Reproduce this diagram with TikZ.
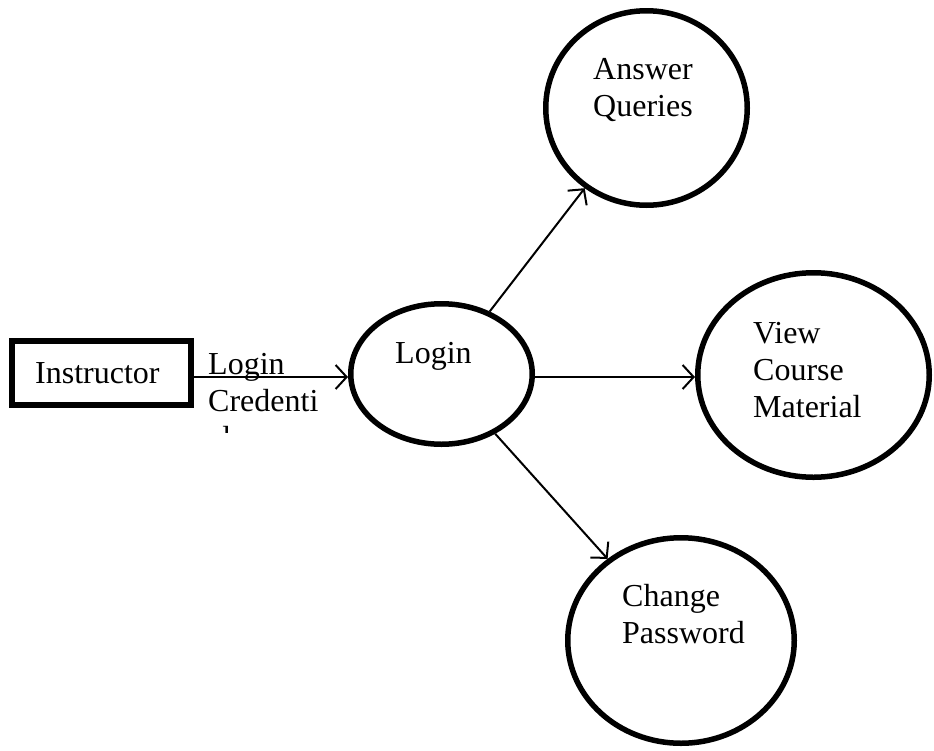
\documentclass[tikz,border=0pt]{standalone}
\usepackage{fontspec}
\setmainfont{Liberation Serif}
\usetikzlibrary{shapes.geometric,arrows.meta}
\tikzset{
  proc/.style={ellipse, draw, line width=5.5pt, inner sep=0pt},
  ent/.style={rectangle, draw, line width=5.5pt, inner sep=0pt},
  flow/.style={line width=2pt, -{Straight Barb[length=11pt,width=24pt,line width=2pt]}},
  txt/.style={inner sep=0pt, anchor=base west, align=left, font=\fontsize{32}{37}\selectfont}
}
\begin{document}
\begin{tikzpicture}[x=1pt,y=-1pt]
\useasboundingbox (0,0) rectangle (934,750);
% nodes
\node[ent, minimum width=179pt, minimum height=64pt] (instr) at (101.5,373) {};
\node[proc, minimum width=181.5pt, minimum height=140.5pt] (login) at (441.5,374) {};
\node[proc, minimum width=201.5pt, minimum height=194.5pt] (answer) at (646.5,108) {};
\node[proc, minimum width=231.5pt, minimum height=204.5pt] (view) at (813.5,375) {};
\node[proc, minimum width=226.5pt, minimum height=205.5pt] (change) at (681,640.5) {};
% texts
\node[txt] (tinstr) at (35,383) {Instructor};
\node[txt] (tlogin) at (395,363) {Login};
\node[txt] (tanswer) at (593,116) {Answer\\Queries};
\node[txt] (tview) at (753,417) {View\\Course\\Material};
\node[txt] (tchange) at (622,643) {Change\\Password};
\begin{scope}
\clip (200,340) rectangle (340,432);
\node[txt, font=\fontsize{32}{37}\selectfont] (tcred) at (208,448) {Login\\Credenti\\al};
\end{scope}
% connectors
\draw[flow] (instr.east |- 0,377) coordinate (a1) -- (login.west |- a1);
\draw[flow] (login) -- (answer);
\draw[flow] (login.east |- 0,377) coordinate (a2) -- (view.west |- a2);
\draw[flow] (login) -- (change);
\end{tikzpicture}
\end{document}
